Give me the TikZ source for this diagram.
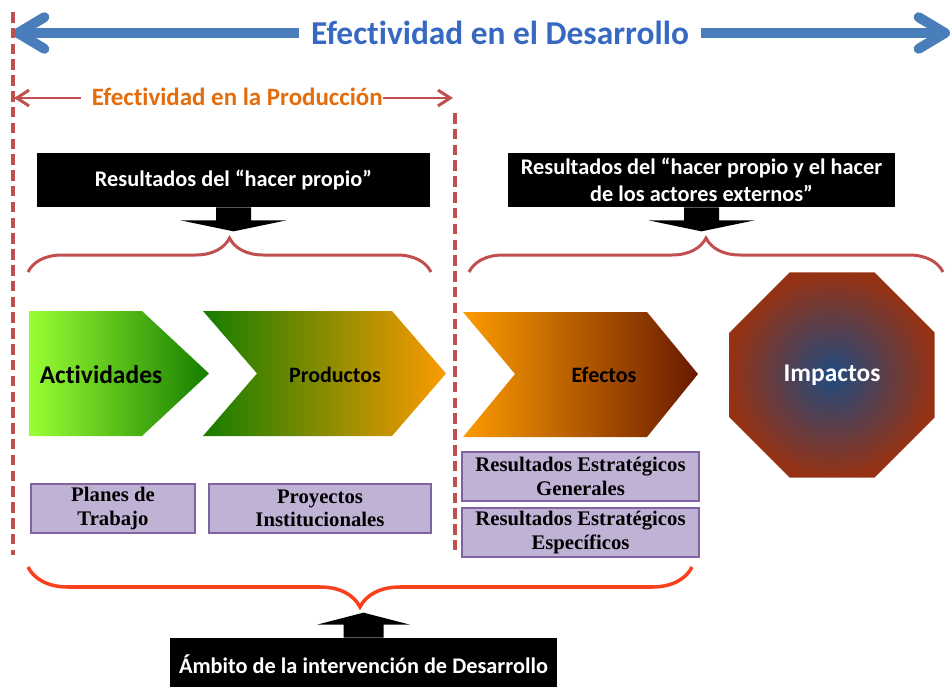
\documentclass[tikz,border=0pt]{standalone}
\usepackage{fontspec}
\setmainfont{Carlito}[Ligatures={NoCommon}]
\newfontfamily\boxserif{Liberation Serif}
\usepackage{tikz}
\usetikzlibrary{calc,arrows.meta,shapes.geometric,decorations.pathreplacing}
\definecolor{devblue}{RGB}{74,126,187}
\definecolor{titleblue}{RGB}{55,105,195}
\definecolor{dashred}{RGB}{192,80,77}
\definecolor{prodorange}{RGB}{228,108,10}
\definecolor{lime}{RGB}{153,255,51}
\definecolor{darkgreen}{RGB}{22,125,0}
\definecolor{chevorange}{RGB}{252,155,0}
\definecolor{chevbrown}{RGB}{105,25,0}
\definecolor{octblue}{RGB}{31,75,128}
\definecolor{octbrown}{RGB}{150,50,20}
\definecolor{lavender}{RGB}{192,178,213}
\definecolor{lavedge}{RGB}{128,100,162}
\definecolor{scopered}{RGB}{250,65,30}

\tikzset{
  blackbox/.style={fill=black, text=white, align=center, inner sep=0pt,
    font=\bfseries\fontsize{12.7}{15.5}\selectfont},
  purplebox/.style={fill=lavender, draw=lavedge, line width=1.2pt, align=center,
    inner sep=0pt, minimum height=0.98cm, font=\boxserif\bfseries\fontsize{11.8}{13.3}\selectfont},
  dashline/.style={dashred, line width=2pt, dash pattern=on 6pt off 3pt},
  topbrace/.style={dashred, line width=1.7pt, decorate, decoration={brace, amplitude=0.68cm}},
  chevlabel/.style={font=\bfseries\fontsize{12.5}{15}\selectfont},
  fatdown/.pic={\fill (-17.5,0) -- (-17.5,13) -- (-53,13) -- (0,24) -- (53,13) -- (17.5,13) -- (17.5,0) -- cycle;},
  fatup/.pic={\fill (-20,0) -- (-20,-13) -- (-46.5,-13) -- (0,-25) -- (46.5,-13) -- (20,-13) -- (20,0) -- cycle;}
}

\begin{document}
\begin{tikzpicture}[x=0.02cm, y=-0.02cm]
    \useasboundingbox (0,0) rectangle (952,686);

    \coordinate (devL) at (13,33);   \coordinate (devR) at (950,33);
    \coordinate (prodL) at (14,98);  \coordinate (prodR) at (453,98);
    \draw[devblue, line width=5.7pt, {Straight Barb[length=15pt, width=18pt, round]}-{Straight Barb[length=15pt, width=18pt, round]}] (devL) -- (devR);
    \node[fill=white, minimum width=8.06cm, inner ysep=2pt, text=titleblue, font=\bfseries\fontsize{19}{22}\selectfont] (dev) at (500,33) {Efectividad en el Desarrollo};

    \draw[dashline] (13,12) -- (13,555);
    \draw[dashline] (455,113) -- (455,555);

    \draw[dashred, line width=1.7pt, {Straight Barb[length=7pt, width=9pt]}-{Straight Barb[length=7pt, width=9pt]}] (prodL) -- (prodR);
    \node[fill=white, inner xsep=0pt, inner ysep=1pt, text=prodorange, font=\bfseries\fontsize{14.2}{17}\selectfont] (prod) at (232,97) {\hspace{6pt}Efectividad en la Producción};

    \node[blackbox, minimum width=7.86cm, minimum height=1.08cm] (own) at (233.5,180) {Resultados del “hacer propio”};
    \node[blackbox, minimum width=7.74cm, minimum height=1.08cm] (ext) at (701.5,180) {Resultados del “hacer propio y el hacer\\de los actores externos”};
    \pic at (own.south) {fatdown};
    \pic at (ext.south) {fatdown};

    \draw[topbrace] (28,272) -- (431,272);
    \draw[topbrace] (469,272) -- (943,272);

    \shade[left color=lime, right color=darkgreen] (29,311) -- (142,311) -- (209,373.5) -- (142,436) -- (29,436) -- cycle;
    \shade[left color=darkgreen, right color=chevorange] (203,311) -- (392,311) -- (446,373.5) -- (392,436) -- (203,436) -- (257,373.5) -- cycle;
    \shade[left color=chevorange, right color=chevbrown] (463,312) -- (647,312) -- (698,374) -- (647,437) -- (463,437) -- (515,374) -- cycle;
    \node[chevlabel, font=\bfseries\fontsize{14.5}{17}\selectfont] (act) at (101,375) {Actividades};
    \node[chevlabel] (pro) at (335,375) {Productos};
    \node[chevlabel] (efe) at (604,375) {Efectos};

    \node[regular polygon, regular polygon sides=8, minimum size=4.44cm, inner sep=0pt,
      inner color=octblue, outer color=octbrown, text=white,
      font=\bfseries\fontsize{14.5}{17}\selectfont] (imp) at (832,375) {\raisebox{-2pt}{Impactos}};

    \node[purplebox, minimum width=3.28cm] (plan) at (113,508.5) {Planes de\\Trabajo};
    \node[purplebox, minimum width=4.44cm] (proy) at (320,508.5) {Proyectos\\Institucionales};
    \node[purplebox, minimum width=4.74cm] (reg) at (580.5,476.5) {Resultados Estratégicos\\Generales};
    \node[purplebox, minimum width=4.74cm] (ree) at (580.5,532.5) {Resultados Estratégicos\\Específicos};

    \draw[scopered, line width=2pt, decorate, decoration={brace, amplitude=0.8cm}] (692,567) -- (28,567);

    \node[blackbox, minimum width=7.74cm, minimum height=1.04cm] (scope) at (363.5,664) {Ámbito de la intervención de Desarrollo};
    \pic at (scope.north) {fatup};
\end{tikzpicture}
\end{document}
